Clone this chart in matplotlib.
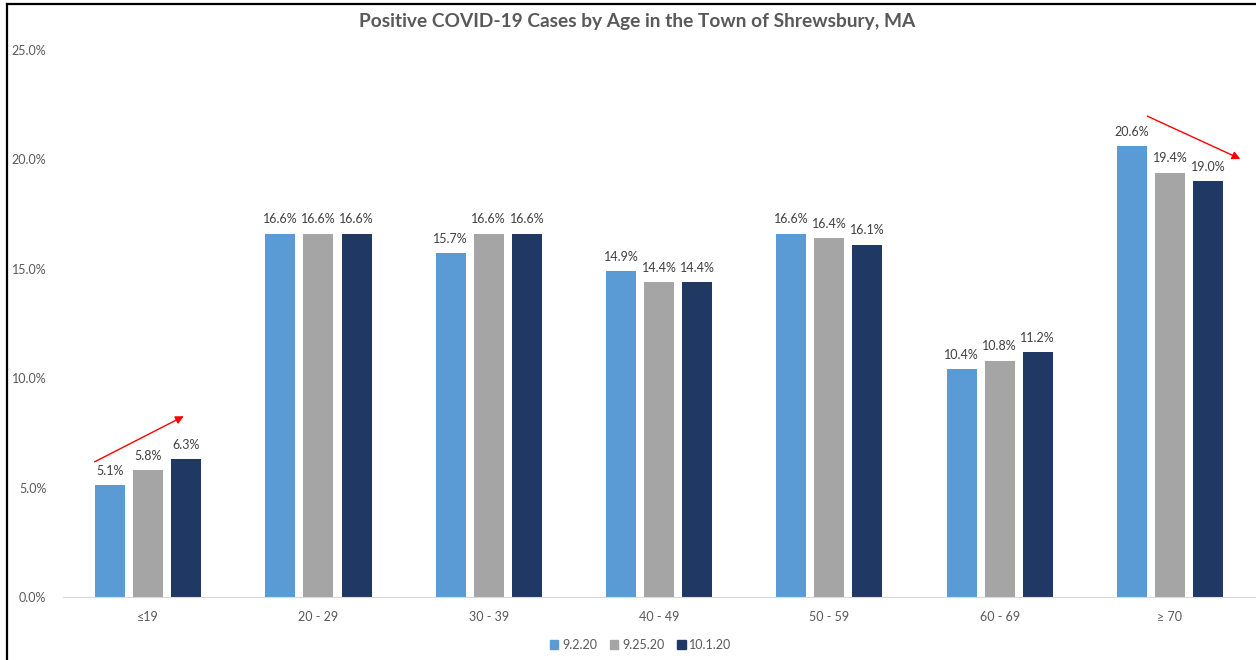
import numpy as np
import matplotlib
matplotlib.use("Agg")
import matplotlib.pyplot as plt
from matplotlib.lines import Line2D
from matplotlib.patches import Patch

# dados
faixas = ["≤19", "20 - 29", "30 - 39", "40 - 49", "50 - 59", "60 - 69", "≥ 70"]
datas = ["9.2.20", "9.25.20", "10.1.20"]
casos_0902 = [5.1, 16.6, 15.7, 14.9, 16.6, 10.4, 20.6]
casos_0925 = [5.8, 16.6, 16.6, 14.4, 16.4, 10.8, 19.4]
casos_1001 = [6.3, 16.6, 16.6, 14.4, 16.1, 11.2, 19.0]
series = [casos_0902, casos_0925, casos_1001]
cores = ["#5B9BD5", "#A5A5A5", "#203864"]

plt.rcParams["font.family"] = ["Lato", "DejaVu Sans"]

fig = plt.figure(figsize=(12.56, 6.6), dpi=100)
ax = fig.add_axes([0.0502, 0.0955, 0.949, 0.8287])

x = np.arange(len(faixas))
largura = 0.176
passo = 0.2235

for i, (vals, cor) in enumerate(zip(series, cores)):
    pos = x + (i - 1) * passo
    barras = ax.bar(pos, vals, largura, color=cor, label=datas[i])
    for b, v in zip(barras, vals):
        ax.annotate(f"{v:.1f}%", (b.get_x() + b.get_width() / 2, v),
                    xytext=(0, 6), textcoords="offset points",
                    ha="center", va="bottom", fontsize=9, color="#404040")

ax.set_xlim(-0.5, 6.5)
ax.set_ylim(0, 25)
ax.set_yticks(np.arange(0, 26, 5))
ax.set_yticklabels([f"{t:.1f}%" for t in np.arange(0, 26, 5)])
ax.set_xticks(x)
ax.set_xticklabels(faixas)
ax.tick_params(axis="both", length=0, labelsize=9, colors="#595959")
ax.tick_params(axis="x", pad=10)
ax.tick_params(axis="y", pad=12)
for s in ["top", "right", "left"]:
    ax.spines[s].set_visible(False)
ax.spines["bottom"].set_color("#D9D9D9")

# setas vermelhas
ax.annotate("", xy=(0.2235, 8.32), xytext=(-0.329, 6.12),
            arrowprops=dict(arrowstyle="-|>", color="red", lw=1, mutation_scale=12))
ax.annotate("", xy=(6.429, 19.97), xytext=(5.853, 22.03),
            arrowprops=dict(arrowstyle="-|>", color="red", lw=1, mutation_scale=12))

fig.text(0.507, 0.967, "Positive COVID-19 Cases by Age in the Town of Shrewsbury, MA",
         ha="center", va="center", fontsize=13.8, fontweight="bold", color="#595959")

handles = [Patch(color=c, label=d) for c, d in zip(cores, datas)]
fig.legend(handles=handles, loc="center", bbox_to_anchor=(0.51, 0.023), ncol=3,
           frameon=False, fontsize=9, handlelength=0.7, handleheight=0.7,
           handletextpad=0.3, columnspacing=1.0, labelcolor="#595959")

# bordas do recorte
fig.add_artist(Line2D([0.0056, 0.0056], [0, 0.994], color="black", lw=1.6, transform=fig.transFigure))
fig.add_artist(Line2D([0.0056, 1], [0.994, 0.994], color="black", lw=1.6, transform=fig.transFigure))

fig.savefig("out.png", dpi=100)
